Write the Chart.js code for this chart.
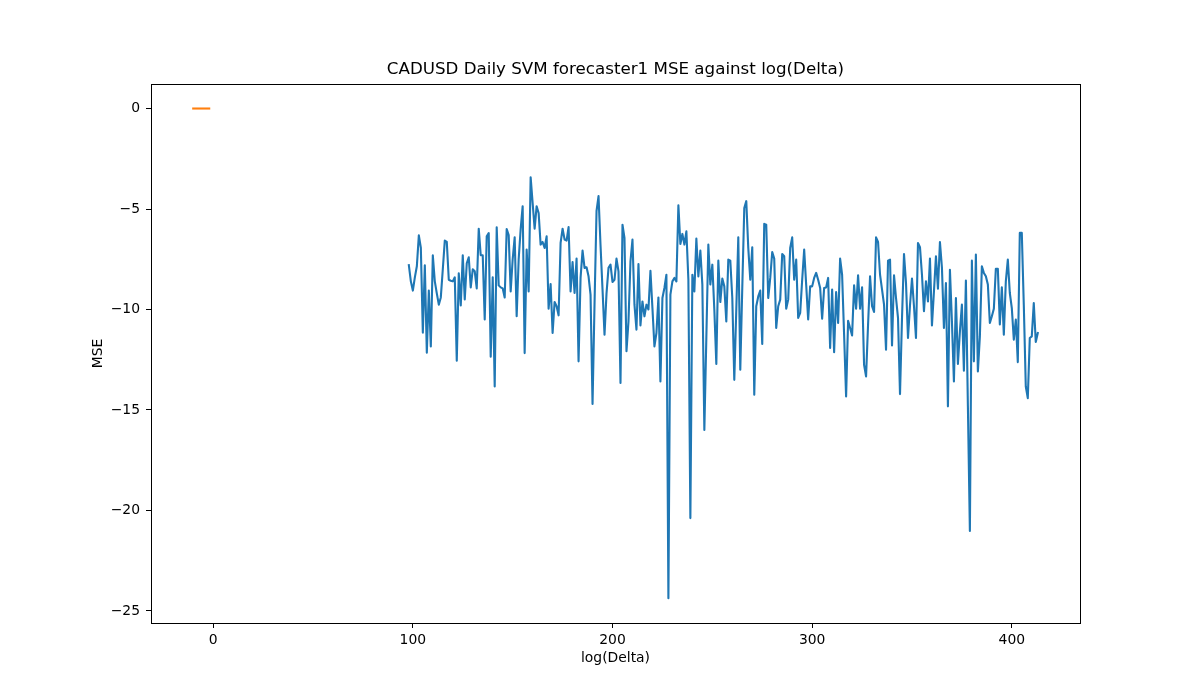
<!DOCTYPE html>
<html>
<head>
<meta charset="utf-8">
<script src="https://cdn.jsdelivr.net/npm/chart.js@4.4.0/dist/chart.umd.min.js"></script>
<style>
  html, body { margin: 0; padding: 0; background: #fff; }
  #wrap { width: 1200px; height: 700px; }
</style>
</head>
<body>
<div id="wrap"><canvas id="mseChart" width="1200" height="700"></canvas></div>
<script>
// log(Delta) of the first blue point; the points follow one per unit
const firstDelta = 98;
// MSE per step
const mseValues = [
  -7.8, -8.6, -9.06, -8.4, -7.85, -6.31, -6.93, -11.15, -7.8, -12.15,
  -9.06, -11.84, -7.3, -8.6, -9.2, -9.76, -9.4, -8.0, -6.57, -6.64,
  -8.52, -8.57, -8.6, -8.4, -12.55, -8.2, -9.8, -7.3, -9.5, -7.7,
  -7.4, -8.9, -8.0, -8.1, -8.95, -5.98, -7.3, -7.3, -10.5, -6.36,
  -6.2, -12.35, -8.4, -13.83, -5.91, -8.8, -8.9, -8.95, -9.4, -6.0,
  -6.3, -9.1, -7.5, -6.41, -10.34, -7.5, -6.0, -4.86, -12.17, -7.02,
  -9.1, -3.42, -4.7, -5.98, -4.86, -5.2, -6.77, -6.64, -6.94, -6.36,
  -9.96, -8.73, -11.17, -9.63, -9.84, -10.29, -6.69, -5.98, -6.52, -6.57,
  -5.9, -9.1, -7.64, -9.18, -7.47, -12.58, -8.43, -7.07, -7.93, -7.9,
  -8.35, -9.26, -14.7, -9.7, -5.1, -4.36, -6.8, -9.0, -11.25, -9.2,
  -7.93, -7.77, -8.63, -8.52, -7.47, -8.1, -13.66, -5.78, -6.44, -12.08,
  -10.59, -7.6, -6.52, -9.76, -11.0, -7.74, -10.79, -9.6, -10.34, -9.76,
  -10.0, -8.07, -9.93, -11.84, -11.17, -9.4, -13.58, -9.43, -8.93, -8.27,
  -24.37, -9.26, -8.6, -8.43, -8.6, -4.81, -6.74, -6.24, -6.77, -6.11,
  -8.5, -20.38, -8.27, -9.1, -6.47, -8.35, -7.07, -8.76, -15.99, -11.4,
  -6.77, -8.76, -7.77, -10.0, -12.71, -7.57, -9.63, -8.46, -8.85, -10.59,
  -7.52, -7.57, -9.43, -13.5, -10.0, -6.41, -13.0, -8.9, -4.95, -4.61,
  -6.94, -8.52, -6.9, -14.24, -9.84, -9.35, -9.06, -11.72, -5.74, -5.78,
  -9.43, -8.43, -7.14, -7.47, -10.92, -9.84, -9.51, -7.24, -7.35, -9.96,
  -9.51, -6.94, -6.41, -8.52, -7.52, -10.42, -10.17, -8.52, -7.02, -8.76,
  -10.5, -8.85, -8.85, -8.43, -8.18, -8.52, -8.93, -10.46, -8.93, -8.9,
  -8.43, -11.92, -9.01, -12.12, -9.13, -10.67, -7.47, -8.27, -11.25, -14.33,
  -10.56, -10.92, -11.29, -8.8, -9.96, -8.3, -9.96, -8.9, -12.75, -13.33,
  -10.75, -8.35, -9.84, -10.12, -6.41, -6.64, -8.27, -9.01, -9.76, -12.0,
  -7.57, -7.52, -11.79, -8.3, -9.43, -10.42, -14.21, -10.42, -7.24, -8.68,
  -11.42, -9.79, -8.46, -9.84, -11.42, -6.69, -6.9, -8.27, -10.09, -8.6,
  -9.6, -7.47, -10.79, -9.1, -7.35, -8.96, -6.64, -7.93, -10.92, -8.68,
  -14.82, -8.02, -10.59, -13.58, -9.43, -12.71, -11.09, -9.76, -13.05, -8.56,
  -14.8, -21.02, -7.57, -12.58, -7.27, -13.08, -11.34, -7.85, -8.18, -8.35,
  -8.76, -10.67, -10.34, -9.96, -7.97, -7.97, -10.75, -8.9, -11.25, -8.6,
  -7.52, -9.18, -9.93, -11.5, -10.5, -12.62, -6.19, -6.19, -9.76, -13.83,
  -14.41, -11.42, -11.34, -9.68, -11.62, -11.17
];
// short orange segment near the origin
const orangeX = [-10, -2];
const orangeY = [0, 0];

const xTicks = [0, 100, 200, 300, 400];
const yTicks = [-25, -20, -15, -10, -5, 0];

const titleText = "CADUSD Daily SVM forecaster1 MSE against log(Delta)";
const xLabel = "log(Delta)";
const yLabel = "MSE";

const FONT = "'DejaVu Sans', sans-serif";

const bluePoints = mseValues.map((v, i) => ({ x: firstDelta + i, y: v }));
const orangePoints = orangeX.map((x, i) => ({ x: x, y: orangeY[i] }));

// matplotlib writes negative ticks with a real minus sign
const fmtTick = (v) => String(v).replace("-", "\u2212");

// title, axis labels and the top/right spines, drawn like matplotlib does
const framePlugin = {
  id: "frame",
  afterDraw(chart) {
    const ctx = chart.ctx;
    const a = chart.chartArea;
    ctx.save();
    ctx.strokeStyle = "#000";
    ctx.lineWidth = 1;
    ctx.strokeRect(Math.round(a.left) + 0.5, Math.round(a.top) + 0.5,
      Math.round(a.right - a.left), Math.round(a.bottom - a.top));
    ctx.fillStyle = "#000";
    ctx.textAlign = "center";
    ctx.textBaseline = "middle";
    ctx.font = "16.7px " + FONT;
    ctx.fillText(titleText, (a.left + a.right) / 2, 70);
    ctx.font = "13.9px " + FONT;
    ctx.fillText(xLabel, (a.left + a.right) / 2, 658);
    ctx.translate(98, (a.top + a.bottom) / 2);
    ctx.rotate(-Math.PI / 2);
    ctx.fillText(yLabel, 0, 0);
    ctx.restore();
  }
};

new Chart(document.getElementById("mseChart"), {
  type: "line",
  data: {
    datasets: [
      {
        label: "MSE",
        data: bluePoints,
        borderColor: "#1f77b4",
        backgroundColor: "#1f77b4",
        borderWidth: 2.1,
        pointRadius: 0,
        tension: 0,
        borderJoinStyle: "round",
        borderCapStyle: "square",
      },
      {
        label: "zero",
        data: orangePoints,
        borderColor: "#ff7f0e",
        backgroundColor: "#ff7f0e",
        borderWidth: 2.1,
        pointRadius: 0,
        tension: 0,
        borderCapStyle: "square",
      },
    ],
  },
  options: {
    responsive: false,
    devicePixelRatio: 1,
    animation: false,
    layout: { padding: { top: 84, right: 120, left: 0, bottom: 0 } },
    plugins: {
      legend: { display: false },
      title: { display: false },
      tooltip: { enabled: false },
    },
    scales: {
      x: {
        type: "linear",
        min: -31.15,
        max: 434.15,
        afterBuildTicks: (s) => { s.ticks = xTicks.map((v) => ({ value: v })); },
        afterFit: (s) => { s.height = 77; },
        ticks: { color: "#000", font: { family: FONT, size: 13.9 }, padding: 4, maxRotation: 0, callback: fmtTick },
        grid: { drawOnChartArea: false, drawTicks: true, tickLength: 5, tickColor: "#000" },
        border: { display: true, color: "#000", width: 1 },
      },
      y: {
        type: "linear",
        min: -25.6,
        max: 1.22,
        afterBuildTicks: (s) => { s.ticks = yTicks.map((v) => ({ value: v })); },
        afterFit: (s) => { s.width = 151; },
        ticks: { color: "#000", font: { family: FONT, size: 13.9 }, padding: 6, callback: fmtTick },
        grid: { drawOnChartArea: false, drawTicks: true, tickLength: 5, tickColor: "#000" },
        border: { display: true, color: "#000", width: 1 },
      },
    },
  },
  plugins: [framePlugin],
});
</script>
</body>
</html>
